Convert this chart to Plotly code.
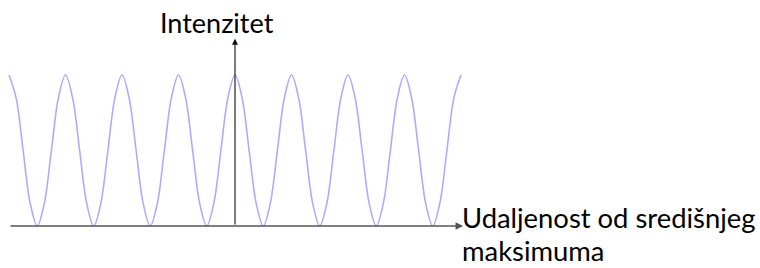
import plotly.graph_objects as go

# Position measured in fringe spacings from the central maximum
position = [-4.0, -3.875, -3.75, -3.625, -3.5, -3.375, -3.25, -3.125,
            -3.0, -2.875, -2.75, -2.625, -2.5, -2.375, -2.25, -2.125,
            -2.0, -1.875, -1.75, -1.625, -1.5, -1.375, -1.25, -1.125,
            -1.0, -0.875, -0.75, -0.625, -0.5, -0.375, -0.25, -0.125,
            0.0, 0.125, 0.25, 0.375, 0.5, 0.625, 0.75, 0.875,
            1.0, 1.125, 1.25, 1.375, 1.5, 1.625, 1.75, 1.875,
            2.0, 2.125, 2.25, 2.375, 2.5, 2.625, 2.75, 2.875,
            3.0, 3.125, 3.25, 3.375, 3.5, 3.625, 3.75, 3.875,
            4.0]
# Relative intensity
intensity = [1.0, 0.85, 0.5, 0.15, 0.0, 0.15, 0.5, 0.85,
             1.0, 0.85, 0.5, 0.15, 0.0, 0.15, 0.5, 0.85,
             1.0, 0.85, 0.5, 0.15, 0.0, 0.15, 0.5, 0.85,
             1.0, 0.85, 0.5, 0.15, 0.0, 0.15, 0.5, 0.85,
             1.0, 0.85, 0.5, 0.15, 0.0, 0.15, 0.5, 0.85,
             1.0, 0.85, 0.5, 0.15, 0.0, 0.15, 0.5, 0.85,
             1.0, 0.85, 0.5, 0.15, 0.0, 0.15, 0.5, 0.85,
             1.0, 0.85, 0.5, 0.15, 0.0, 0.15, 0.5, 0.85,
             1.0]

y_label = "Intenzitet"
x_label_lines = ["Udaljenost od središnjeg", "maksimuma"]

W, H = 760, 268
FONT = "Lato"
X0, DX = 235, 56.5     # pixel of central max, pixels per fringe
Y0, DY = 226, 151      # pixel of baseline, pixels per unit intensity


def px(p):
    return p / W


def py(p):
    return 1 - p / H


fig = go.Figure()
fig.add_trace(go.Scatter(
    x=position, y=intensity, mode="lines",
    line=dict(color="rgb(172,172,255)", width=1.6, shape="spline", smoothing=1.0),
    hoverinfo="skip", showlegend=False,
))

# x axis with arrow
fig.add_annotation(x=4.04, y=0, ax=-4.0, ay=0, xref="x", yref="y", axref="x", ayref="y",
                   showarrow=True, arrowhead=2, arrowsize=1.1, arrowwidth=1.4,
                   arrowcolor="#555555", text="")
# y axis with arrow
fig.add_annotation(x=0, y=1.24, ax=0, ay=0, xref="x", yref="y", axref="x", ayref="y",
                   showarrow=True, arrowhead=2, arrowsize=1.1, arrowwidth=1.1,
                   arrowcolor="#111111", text="")

fig.add_annotation(x=px(159), y=py(22), xref="paper", yref="paper",
                   xanchor="left", yanchor="middle", text=y_label, showarrow=False,
                   borderpad=0,
                   font=dict(family=FONT, size=27, color="#000000"))
fig.add_annotation(x=px(461), y=py(200), xref="paper", yref="paper",
                   xanchor="left", yanchor="top", align="left", text=x_label_lines[0],
                   showarrow=False, borderpad=0,
                   font=dict(family=FONT, size=27.4, color="#000000"))
fig.add_annotation(x=px(461), y=py(268), xref="paper", yref="paper",
                   xanchor="left", yanchor="bottom", align="left", text=x_label_lines[1],
                   showarrow=False, borderpad=0,
                   font=dict(family=FONT, size=27.4, color="#000000"))

fig.update_layout(
    width=W, height=H,
    margin=dict(l=0, r=0, t=0, b=0),
    paper_bgcolor="white", plot_bgcolor="white",
    xaxis=dict(range=[-X0 / DX, (W - X0) / DX], visible=False, fixedrange=True),
    yaxis=dict(range=[(Y0 - H) / DY, Y0 / DY], visible=False, fixedrange=True),
)

fig.write_html("out.html", config={"displayModeBar": False},
               post_script="document.body.style.margin='0';")
